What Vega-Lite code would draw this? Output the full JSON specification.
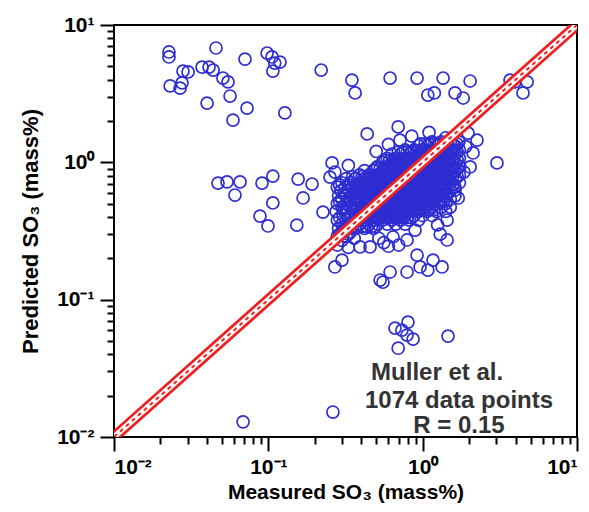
{
  "$schema": "https://vega.github.io/schema/vega-lite/v6.json",
  "width": 463,
  "height": 412,
  "autosize": {"type": "none"},
  "padding": {"left": 114, "top": 25, "right": 12, "bottom": 75},
  "background": "white",
  "config": {"view": {"stroke": "black", "strokeWidth": 2}, "font": "Liberation Sans"},
  "datasets": {
    "points": [
      {"measured":0.28,"predicted":0.25},{"measured":0.28,"predicted":0.29},{"measured":0.285,"predicted":0.33},{"measured":0.28,"predicted":0.38},{"measured":0.275,"predicted":0.44},{"measured":0.28,"predicted":0.50},{"measured":0.285,"predicted":0.57},{"measured":0.28,"predicted":0.66},
      {"measured":0.30,"predicted":0.27},{"measured":0.30,"predicted":0.31},{"measured":0.30,"predicted":0.355},{"measured":0.305,"predicted":0.41},{"measured":0.30,"predicted":0.47},{"measured":0.30,"predicted":0.54},{"measured":0.295,"predicted":0.62},{"measured":0.30,"predicted":0.71},
      {"measured":0.32,"predicted":0.29},{"measured":0.32,"predicted":0.33},{"measured":0.32,"predicted":0.38},{"measured":0.325,"predicted":0.44},{"measured":0.32,"predicted":0.50},{"measured":0.32,"predicted":0.57},{"measured":0.315,"predicted":0.66},{"measured":0.32,"predicted":0.76},
      {"measured":0.34,"predicted":0.31},{"measured":0.34,"predicted":0.355},{"measured":0.345,"predicted":0.41},{"measured":0.34,"predicted":0.47},{"measured":0.34,"predicted":0.54},{"measured":0.335,"predicted":0.62},{"measured":0.34,"predicted":0.71},
      {"measured":0.365,"predicted":0.33},{"measured":0.365,"predicted":0.38},{"measured":0.36,"predicted":0.44},{"measured":0.365,"predicted":0.50},{"measured":0.37,"predicted":0.57},{"measured":0.365,"predicted":0.66},{"measured":0.365,"predicted":0.76},
      {"measured":0.39,"predicted":0.355},{"measured":0.39,"predicted":0.41},{"measured":0.395,"predicted":0.47},{"measured":0.39,"predicted":0.54},{"measured":0.385,"predicted":0.62},{"measured":0.39,"predicted":0.71},{"measured":0.39,"predicted":0.81},
      {"measured":0.42,"predicted":0.33},{"measured":0.42,"predicted":0.38},{"measured":0.42,"predicted":0.44},{"measured":0.425,"predicted":0.50},{"measured":0.42,"predicted":0.57},{"measured":0.415,"predicted":0.66},{"measured":0.42,"predicted":0.76},{"measured":0.42,"predicted":0.87},
      {"measured":0.45,"predicted":0.355},{"measured":0.45,"predicted":0.41},{"measured":0.45,"predicted":0.47},{"measured":0.455,"predicted":0.54},{"measured":0.45,"predicted":0.62},{"measured":0.445,"predicted":0.71},{"measured":0.45,"predicted":0.81},
      {"measured":0.48,"predicted":0.33},{"measured":0.48,"predicted":0.38},{"measured":0.485,"predicted":0.44},{"measured":0.48,"predicted":0.50},{"measured":0.48,"predicted":0.57},{"measured":0.475,"predicted":0.66},{"measured":0.48,"predicted":0.76},{"measured":0.48,"predicted":0.87},
      {"measured":0.51,"predicted":0.355},{"measured":0.51,"predicted":0.41},{"measured":0.515,"predicted":0.47},{"measured":0.51,"predicted":0.54},{"measured":0.51,"predicted":0.62},{"measured":0.505,"predicted":0.71},{"measured":0.51,"predicted":0.81},{"measured":0.51,"predicted":0.93},
      {"measured":0.55,"predicted":0.38},{"measured":0.55,"predicted":0.44},{"measured":0.55,"predicted":0.50},{"measured":0.555,"predicted":0.57},{"measured":0.55,"predicted":0.66},{"measured":0.545,"predicted":0.76},{"measured":0.55,"predicted":0.87},{"measured":0.55,"predicted":1.0},
      {"measured":0.59,"predicted":0.355},{"measured":0.59,"predicted":0.41},{"measured":0.59,"predicted":0.47},{"measured":0.595,"predicted":0.54},{"measured":0.59,"predicted":0.62},{"measured":0.585,"predicted":0.71},{"measured":0.59,"predicted":0.81},{"measured":0.59,"predicted":0.93},{"measured":0.59,"predicted":1.07},
      {"measured":0.63,"predicted":0.38},{"measured":0.63,"predicted":0.44},{"measured":0.635,"predicted":0.50},{"measured":0.63,"predicted":0.57},{"measured":0.63,"predicted":0.66},{"measured":0.625,"predicted":0.76},{"measured":0.63,"predicted":0.87},{"measured":0.63,"predicted":1.0},{"measured":0.63,"predicted":1.15},
      {"measured":0.67,"predicted":0.355},{"measured":0.67,"predicted":0.41},{"measured":0.67,"predicted":0.47},{"measured":0.675,"predicted":0.54},{"measured":0.67,"predicted":0.62},{"measured":0.665,"predicted":0.71},{"measured":0.67,"predicted":0.81},{"measured":0.67,"predicted":0.93},{"measured":0.67,"predicted":1.07},
      {"measured":0.72,"predicted":0.38},{"measured":0.72,"predicted":0.44},{"measured":0.725,"predicted":0.50},{"measured":0.72,"predicted":0.57},{"measured":0.72,"predicted":0.66},{"measured":0.715,"predicted":0.76},{"measured":0.72,"predicted":0.87},{"measured":0.72,"predicted":1.0},{"measured":0.72,"predicted":1.15},
      {"measured":0.77,"predicted":0.355},{"measured":0.77,"predicted":0.41},{"measured":0.77,"predicted":0.47},{"measured":0.775,"predicted":0.54},{"measured":0.77,"predicted":0.62},{"measured":0.765,"predicted":0.71},{"measured":0.77,"predicted":0.81},{"measured":0.77,"predicted":0.93},{"measured":0.77,"predicted":1.07},{"measured":0.77,"predicted":1.23},
      {"measured":0.82,"predicted":0.38},{"measured":0.82,"predicted":0.44},{"measured":0.825,"predicted":0.50},{"measured":0.82,"predicted":0.57},{"measured":0.82,"predicted":0.66},{"measured":0.815,"predicted":0.76},{"measured":0.82,"predicted":0.87},{"measured":0.82,"predicted":1.0},{"measured":0.82,"predicted":1.15},
      {"measured":0.88,"predicted":0.41},{"measured":0.88,"predicted":0.47},{"measured":0.885,"predicted":0.54},{"measured":0.88,"predicted":0.62},{"measured":0.88,"predicted":0.71},{"measured":0.875,"predicted":0.81},{"measured":0.88,"predicted":0.93},{"measured":0.88,"predicted":1.07},{"measured":0.88,"predicted":1.23},
      {"measured":0.94,"predicted":0.38},{"measured":0.94,"predicted":0.44},{"measured":0.945,"predicted":0.50},{"measured":0.94,"predicted":0.57},{"measured":0.94,"predicted":0.66},{"measured":0.935,"predicted":0.76},{"measured":0.94,"predicted":0.87},{"measured":0.94,"predicted":1.0},{"measured":0.94,"predicted":1.15},{"measured":0.94,"predicted":1.32},
      {"measured":1.0,"predicted":0.41},{"measured":1.0,"predicted":0.47},{"measured":1.01,"predicted":0.54},{"measured":1.0,"predicted":0.62},{"measured":1.0,"predicted":0.71},{"measured":0.99,"predicted":0.81},{"measured":1.0,"predicted":0.93},{"measured":1.0,"predicted":1.07},{"measured":1.0,"predicted":1.23},
      {"measured":1.07,"predicted":0.44},{"measured":1.07,"predicted":0.50},{"measured":1.08,"predicted":0.57},{"measured":1.07,"predicted":0.66},{"measured":1.07,"predicted":0.76},{"measured":1.06,"predicted":0.87},{"measured":1.07,"predicted":1.0},{"measured":1.07,"predicted":1.15},{"measured":1.07,"predicted":1.32},
      {"measured":1.15,"predicted":0.41},{"measured":1.15,"predicted":0.47},{"measured":1.16,"predicted":0.54},{"measured":1.15,"predicted":0.62},{"measured":1.15,"predicted":0.71},{"measured":1.14,"predicted":0.81},{"measured":1.15,"predicted":0.93},{"measured":1.15,"predicted":1.07},{"measured":1.15,"predicted":1.23},{"measured":1.15,"predicted":1.41},
      {"measured":1.23,"predicted":0.44},{"measured":1.23,"predicted":0.50},{"measured":1.24,"predicted":0.57},{"measured":1.23,"predicted":0.66},{"measured":1.23,"predicted":0.76},{"measured":1.22,"predicted":0.87},{"measured":1.23,"predicted":1.0},{"measured":1.23,"predicted":1.15},{"measured":1.23,"predicted":1.32},
      {"measured":1.32,"predicted":0.47},{"measured":1.32,"predicted":0.54},{"measured":1.33,"predicted":0.62},{"measured":1.32,"predicted":0.71},{"measured":1.32,"predicted":0.81},{"measured":1.31,"predicted":0.93},{"measured":1.32,"predicted":1.07},{"measured":1.32,"predicted":1.23},{"measured":1.32,"predicted":1.41},
      {"measured":1.41,"predicted":0.44},{"measured":1.41,"predicted":0.50},{"measured":1.42,"predicted":0.57},{"measured":1.41,"predicted":0.66},{"measured":1.41,"predicted":0.76},{"measured":1.40,"predicted":0.87},{"measured":1.41,"predicted":1.0},{"measured":1.41,"predicted":1.15},{"measured":1.41,"predicted":1.32},{"measured":1.41,"predicted":1.51},
      {"measured":1.51,"predicted":0.54},{"measured":1.51,"predicted":0.62},{"measured":1.52,"predicted":0.71},{"measured":1.51,"predicted":0.81},{"measured":1.51,"predicted":0.93},{"measured":1.50,"predicted":1.07},{"measured":1.51,"predicted":1.23},{"measured":1.51,"predicted":1.41},
      {"measured":1.62,"predicted":0.57},{"measured":1.62,"predicted":0.66},{"measured":1.63,"predicted":0.76},{"measured":1.62,"predicted":0.87},{"measured":1.62,"predicted":1.0},{"measured":1.61,"predicted":1.15},{"measured":1.62,"predicted":1.32},
      {"measured":1.73,"predicted":0.71},{"measured":1.73,"predicted":0.81},{"measured":1.74,"predicted":0.93},{"measured":1.73,"predicted":1.07},{"measured":1.73,"predicted":1.23},{"measured":1.72,"predicted":1.41},
      {"measured":0.365,"predicted":0.41},{"measured":0.365,"predicted":0.47},{"measured":0.36,"predicted":0.54},{"measured":0.365,"predicted":0.62},
      {"measured":0.39,"predicted":0.44},{"measured":0.39,"predicted":0.50},{"measured":0.39,"predicted":0.57},{"measured":0.395,"predicted":0.66},
      {"measured":0.42,"predicted":0.41},{"measured":0.42,"predicted":0.47},{"measured":0.42,"predicted":0.54},{"measured":0.425,"predicted":0.62},{"measured":0.42,"predicted":0.71},
      {"measured":0.45,"predicted":0.44},{"measured":0.45,"predicted":0.50},{"measured":0.45,"predicted":0.57},{"measured":0.445,"predicted":0.66},{"measured":0.45,"predicted":0.76},
      {"measured":0.48,"predicted":0.41},{"measured":0.48,"predicted":0.47},{"measured":0.48,"predicted":0.54},{"measured":0.485,"predicted":0.62},{"measured":0.48,"predicted":0.71},
      {"measured":0.51,"predicted":0.44},{"measured":0.51,"predicted":0.50},{"measured":0.51,"predicted":0.57},{"measured":0.505,"predicted":0.66},{"measured":0.51,"predicted":0.76},
      {"measured":0.55,"predicted":0.41},{"measured":0.55,"predicted":0.47},{"measured":0.55,"predicted":0.54},{"measured":0.545,"predicted":0.62},{"measured":0.55,"predicted":0.71},{"measured":0.55,"predicted":0.81},
      {"measured":0.59,"predicted":0.44},{"measured":0.59,"predicted":0.50},{"measured":0.59,"predicted":0.57},{"measured":0.595,"predicted":0.66},{"measured":0.59,"predicted":0.76},{"measured":0.59,"predicted":0.87},
      {"measured":0.63,"predicted":0.41},{"measured":0.63,"predicted":0.47},{"measured":0.63,"predicted":0.54},{"measured":0.625,"predicted":0.62},{"measured":0.63,"predicted":0.71},{"measured":0.63,"predicted":0.81},{"measured":0.63,"predicted":0.93},
      {"measured":0.67,"predicted":0.44},{"measured":0.67,"predicted":0.50},{"measured":0.67,"predicted":0.57},{"measured":0.675,"predicted":0.66},{"measured":0.67,"predicted":0.76},{"measured":0.67,"predicted":0.87},{"measured":0.67,"predicted":1.0},
      {"measured":0.72,"predicted":0.41},{"measured":0.72,"predicted":0.47},{"measured":0.72,"predicted":0.54},{"measured":0.715,"predicted":0.62},{"measured":0.72,"predicted":0.71},{"measured":0.72,"predicted":0.81},{"measured":0.72,"predicted":0.93},
      {"measured":0.77,"predicted":0.44},{"measured":0.77,"predicted":0.50},{"measured":0.77,"predicted":0.57},{"measured":0.775,"predicted":0.66},{"measured":0.77,"predicted":0.76},{"measured":0.77,"predicted":0.87},{"measured":0.77,"predicted":1.0},
      {"measured":0.82,"predicted":0.47},{"measured":0.82,"predicted":0.54},{"measured":0.82,"predicted":0.62},{"measured":0.825,"predicted":0.71},{"measured":0.82,"predicted":0.81},{"measured":0.82,"predicted":0.93},{"measured":0.82,"predicted":1.07},
      {"measured":0.88,"predicted":0.50},{"measured":0.88,"predicted":0.57},{"measured":0.88,"predicted":0.66},{"measured":0.885,"predicted":0.76},{"measured":0.88,"predicted":0.87},{"measured":0.88,"predicted":1.0},
      {"measured":0.94,"predicted":0.47},{"measured":0.94,"predicted":0.54},{"measured":0.94,"predicted":0.62},{"measured":0.945,"predicted":0.71},{"measured":0.94,"predicted":0.81},{"measured":0.94,"predicted":0.93},{"measured":0.94,"predicted":1.07},
      {"measured":1.0,"predicted":0.50},{"measured":1.0,"predicted":0.57},{"measured":1.0,"predicted":0.66},{"measured":1.01,"predicted":0.76},{"measured":1.0,"predicted":0.87},{"measured":1.0,"predicted":1.0},{"measured":1.0,"predicted":1.15},
      {"measured":1.07,"predicted":0.54},{"measured":1.07,"predicted":0.62},{"measured":1.07,"predicted":0.71},{"measured":1.08,"predicted":0.81},{"measured":1.07,"predicted":0.93},{"measured":1.07,"predicted":1.07},
      {"measured":1.15,"predicted":0.57},{"measured":1.15,"predicted":0.66},{"measured":1.15,"predicted":0.76},{"measured":1.16,"predicted":0.87},{"measured":1.15,"predicted":1.0},{"measured":1.15,"predicted":1.15},
      {"measured":1.23,"predicted":0.62},{"measured":1.23,"predicted":0.71},{"measured":1.23,"predicted":0.81},{"measured":1.24,"predicted":0.93},{"measured":1.23,"predicted":1.07},
      {"measured":1.32,"predicted":0.66},{"measured":1.32,"predicted":0.76},{"measured":1.32,"predicted":0.87},{"measured":1.33,"predicted":1.0},{"measured":1.32,"predicted":1.15},
      {"measured":0.29,"predicted":0.30},{"measured":0.29,"predicted":0.395},{"measured":0.29,"predicted":0.52},{"measured":0.29,"predicted":0.685},
      {"measured":0.31,"predicted":0.34},{"measured":0.31,"predicted":0.455},{"measured":0.31,"predicted":0.595},
      {"measured":0.33,"predicted":0.30},{"measured":0.33,"predicted":0.395},{"measured":0.33,"predicted":0.52},{"measured":0.33,"predicted":0.685},
      {"measured":0.352,"predicted":0.34},{"measured":0.352,"predicted":0.455},{"measured":0.352,"predicted":0.595},{"measured":0.352,"predicted":0.785},
      {"measured":0.377,"predicted":0.34},{"measured":0.377,"predicted":0.395},{"measured":0.377,"predicted":0.455},{"measured":0.377,"predicted":0.52},{"measured":0.377,"predicted":0.595},{"measured":0.377,"predicted":0.685},
      {"measured":0.405,"predicted":0.34},{"measured":0.405,"predicted":0.395},{"measured":0.405,"predicted":0.455},{"measured":0.405,"predicted":0.52},{"measured":0.405,"predicted":0.595},{"measured":0.405,"predicted":0.685},{"measured":0.405,"predicted":0.785},
      {"measured":0.435,"predicted":0.34},{"measured":0.435,"predicted":0.395},{"measured":0.435,"predicted":0.455},{"measured":0.435,"predicted":0.52},{"measured":0.435,"predicted":0.595},{"measured":0.435,"predicted":0.685},{"measured":0.435,"predicted":0.785},
      {"measured":0.465,"predicted":0.34},{"measured":0.465,"predicted":0.395},{"measured":0.465,"predicted":0.455},{"measured":0.465,"predicted":0.52},{"measured":0.465,"predicted":0.595},{"measured":0.465,"predicted":0.685},{"measured":0.465,"predicted":0.785},
      {"measured":0.495,"predicted":0.34},{"measured":0.495,"predicted":0.395},{"measured":0.495,"predicted":0.455},{"measured":0.495,"predicted":0.52},{"measured":0.495,"predicted":0.595},{"measured":0.495,"predicted":0.685},{"measured":0.495,"predicted":0.785},{"measured":0.495,"predicted":0.90},
      {"measured":0.53,"predicted":0.395},{"measured":0.53,"predicted":0.455},{"measured":0.53,"predicted":0.52},{"measured":0.53,"predicted":0.595},{"measured":0.53,"predicted":0.685},{"measured":0.53,"predicted":0.785},{"measured":0.53,"predicted":0.90},
      {"measured":0.57,"predicted":0.395},{"measured":0.57,"predicted":0.455},{"measured":0.57,"predicted":0.52},{"measured":0.57,"predicted":0.595},{"measured":0.57,"predicted":0.685},{"measured":0.57,"predicted":0.785},{"measured":0.57,"predicted":0.90},{"measured":0.57,"predicted":1.035},
      {"measured":0.61,"predicted":0.395},{"measured":0.61,"predicted":0.455},{"measured":0.61,"predicted":0.52},{"measured":0.61,"predicted":0.595},{"measured":0.61,"predicted":0.685},{"measured":0.61,"predicted":0.785},{"measured":0.61,"predicted":0.90},{"measured":0.61,"predicted":1.035},
      {"measured":0.65,"predicted":0.395},{"measured":0.65,"predicted":0.455},{"measured":0.65,"predicted":0.52},{"measured":0.65,"predicted":0.595},{"measured":0.65,"predicted":0.685},{"measured":0.65,"predicted":0.785},{"measured":0.65,"predicted":0.90},{"measured":0.65,"predicted":1.035},
      {"measured":0.695,"predicted":0.395},{"measured":0.695,"predicted":0.455},{"measured":0.695,"predicted":0.52},{"measured":0.695,"predicted":0.595},{"measured":0.695,"predicted":0.685},{"measured":0.695,"predicted":0.785},{"measured":0.695,"predicted":0.90},{"measured":0.695,"predicted":1.035},{"measured":0.695,"predicted":1.19},
      {"measured":0.745,"predicted":0.395},{"measured":0.745,"predicted":0.455},{"measured":0.745,"predicted":0.52},{"measured":0.745,"predicted":0.595},{"measured":0.745,"predicted":0.685},{"measured":0.745,"predicted":0.785},{"measured":0.745,"predicted":0.90},{"measured":0.745,"predicted":1.035},{"measured":0.745,"predicted":1.19},
      {"measured":0.795,"predicted":0.395},{"measured":0.795,"predicted":0.455},{"measured":0.795,"predicted":0.52},{"measured":0.795,"predicted":0.595},{"measured":0.795,"predicted":0.685},{"measured":0.795,"predicted":0.785},{"measured":0.795,"predicted":0.90},{"measured":0.795,"predicted":1.035},{"measured":0.795,"predicted":1.19},
      {"measured":0.85,"predicted":0.395},{"measured":0.85,"predicted":0.455},{"measured":0.85,"predicted":0.52},{"measured":0.85,"predicted":0.595},{"measured":0.85,"predicted":0.685},{"measured":0.85,"predicted":0.785},{"measured":0.85,"predicted":0.90},{"measured":0.85,"predicted":1.035},{"measured":0.85,"predicted":1.19},
      {"measured":0.91,"predicted":0.455},{"measured":0.91,"predicted":0.52},{"measured":0.91,"predicted":0.595},{"measured":0.91,"predicted":0.685},{"measured":0.91,"predicted":0.785},{"measured":0.91,"predicted":0.90},{"measured":0.91,"predicted":1.035},{"measured":0.91,"predicted":1.19},
      {"measured":0.97,"predicted":0.455},{"measured":0.97,"predicted":0.52},{"measured":0.97,"predicted":0.595},{"measured":0.97,"predicted":0.685},{"measured":0.97,"predicted":0.785},{"measured":0.97,"predicted":0.90},{"measured":0.97,"predicted":1.035},{"measured":0.97,"predicted":1.19},{"measured":0.97,"predicted":1.36},
      {"measured":1.035,"predicted":0.455},{"measured":1.035,"predicted":0.52},{"measured":1.035,"predicted":0.595},{"measured":1.035,"predicted":0.685},{"measured":1.035,"predicted":0.785},{"measured":1.035,"predicted":0.90},{"measured":1.035,"predicted":1.035},{"measured":1.035,"predicted":1.19},{"measured":1.035,"predicted":1.36},
      {"measured":1.11,"predicted":0.455},{"measured":1.11,"predicted":0.52},{"measured":1.11,"predicted":0.595},{"measured":1.11,"predicted":0.685},{"measured":1.11,"predicted":0.785},{"measured":1.11,"predicted":0.90},{"measured":1.11,"predicted":1.035},{"measured":1.11,"predicted":1.19},{"measured":1.11,"predicted":1.36},
      {"measured":1.19,"predicted":0.455},{"measured":1.19,"predicted":0.52},{"measured":1.19,"predicted":0.595},{"measured":1.19,"predicted":0.685},{"measured":1.19,"predicted":0.785},{"measured":1.19,"predicted":0.90},{"measured":1.19,"predicted":1.035},{"measured":1.19,"predicted":1.19},{"measured":1.19,"predicted":1.36},
      {"measured":1.275,"predicted":0.52},{"measured":1.275,"predicted":0.595},{"measured":1.275,"predicted":0.685},{"measured":1.275,"predicted":0.785},{"measured":1.275,"predicted":0.90},{"measured":1.275,"predicted":1.035},{"measured":1.275,"predicted":1.19},{"measured":1.275,"predicted":1.36},
      {"measured":1.365,"predicted":0.52},{"measured":1.365,"predicted":0.595},{"measured":1.365,"predicted":0.685},{"measured":1.365,"predicted":0.785},{"measured":1.365,"predicted":0.90},{"measured":1.365,"predicted":1.035},{"measured":1.365,"predicted":1.19},{"measured":1.365,"predicted":1.36},
      {"measured":1.46,"predicted":0.595},{"measured":1.46,"predicted":0.685},{"measured":1.46,"predicted":0.785},{"measured":1.46,"predicted":0.90},{"measured":1.46,"predicted":1.035},{"measured":1.46,"predicted":1.19},{"measured":1.46,"predicted":1.36},
      {"measured":1.565,"predicted":0.685},{"measured":1.565,"predicted":0.785},{"measured":1.565,"predicted":0.90},{"measured":1.565,"predicted":1.035},{"measured":1.565,"predicted":1.19},{"measured":1.565,"predicted":1.36},
      {"measured":1.675,"predicted":0.785},{"measured":1.675,"predicted":0.90},{"measured":1.675,"predicted":1.035},{"measured":1.675,"predicted":1.19},{"measured":1.675,"predicted":1.36},
      {"measured":0.0227,"predicted":6.36},{"measured":0.0227,"predicted":5.85},{"measured":0.0458,"predicted":6.8},{"measured":0.0706,"predicted":5.65},{"measured":0.0982,"predicted":6.25},{"measured":0.1057,"predicted":5.85},{"measured":0.110,"predicted":5.28},{"measured":0.119,"predicted":5.37},{"measured":0.107,"predicted":4.62},{"measured":0.028,"predicted":4.62},{"measured":0.0302,"predicted":4.55},{"measured":0.0372,"predicted":4.94},{"measured":0.0413,"predicted":4.94},{"measured":0.0439,"predicted":4.70},{"measured":0.0508,"predicted":4.11},{"measured":0.0548,"predicted":3.85},{"measured":0.0231,"predicted":3.6},{"measured":0.0268,"predicted":3.47},{"measured":0.0276,"predicted":3.79},{"measured":0.0565,"predicted":3.04},{"measured":0.0401,"predicted":2.70},{"measured":0.0728,"predicted":2.48},{"measured":0.059,"predicted":2.03},{"measured":0.128,"predicted":2.29},
      {"measured":0.22,"predicted":4.70},{"measured":0.348,"predicted":3.97},{"measured":0.365,"predicted":3.20},{"measured":0.615,"predicted":4.11},{"measured":0.92,"predicted":4.11},{"measured":1.356,"predicted":4.11},{"measured":2.03,"predicted":3.91},{"measured":1.08,"predicted":3.09},{"measured":1.19,"predicted":3.20},{"measured":1.62,"predicted":3.20},{"measured":1.83,"predicted":2.94},{"measured":3.68,"predicted":3.97},{"measured":3.97,"predicted":3.85},{"measured":4.75,"predicted":3.85},{"measured":4.47,"predicted":3.20},
      {"measured":0.437,"predicted":1.61},{"measured":0.694,"predicted":1.81},{"measured":0.713,"predicted":1.45},{"measured":3.03,"predicted":0.99},{"measured":0.259,"predicted":0.99},{"measured":2.25,"predicted":1.45},{"measured":2.03,"predicted":0.925},{"measured":2.12,"predicted":1.17},{"measured":1.97,"predicted":1.63},{"measured":1.62,"predicted":0.628},{"measured":1.51,"predicted":0.472},{"measured":1.44,"predicted":0.38},{"measured":1.44,"predicted":0.272},
      {"measured":0.0472,"predicted":0.706},{"measured":0.054,"predicted":0.72},{"measured":0.0656,"predicted":0.72},{"measured":0.0608,"predicted":0.578},{"measured":0.091,"predicted":0.706},{"measured":0.107,"predicted":0.794},{"measured":0.107,"predicted":0.506},{"measured":0.0883,"predicted":0.406},{"measured":0.0995,"predicted":0.344},{"measured":0.153,"predicted":0.349},{"measured":0.156,"predicted":0.755},{"measured":0.192,"predicted":0.695},{"measured":0.168,"predicted":0.55},{"measured":0.226,"predicted":0.434},{"measured":0.251,"predicted":0.781},
      {"measured":0.553,"predicted":0.134},{"measured":0.615,"predicted":0.159},{"measured":0.792,"predicted":0.159},{"measured":0.92,"predicted":0.211},{"measured":0.962,"predicted":0.173},{"measured":1.08,"predicted":0.164},{"measured":1.167,"predicted":0.194},{"measured":1.336,"predicted":0.173},
      {"measured":0.662,"predicted":0.0621},{"measured":0.734,"predicted":0.060},{"measured":0.803,"predicted":0.0687},{"measured":0.792,"predicted":0.0552},{"measured":0.867,"predicted":0.0516},{"measured":0.694,"predicted":0.0443},{"measured":1.46,"predicted":0.0543},{"measured":0.262,"predicted":0.0152},{"measured":0.0686,"predicted":0.0129},
      {"measured":0.53,"predicted":0.139},{"measured":0.27,"predicted":0.173},{"measured":0.30,"predicted":0.194},{"measured":0.393,"predicted":0.242},{"measured":0.456,"predicted":0.242},{"measured":0.643,"predicted":0.286},{"measured":0.792,"predicted":0.272},{"measured":0.893,"predicted":0.321},
      {"measured":0.33,"predicted":0.24},{"measured":0.36,"predicted":0.28},{"measured":0.52,"predicted":0.28},{"measured":1.3,"predicted":0.30},{"measured":1.25,"predicted":0.35},{"measured":1.7,"predicted":0.55},{"measured":1.85,"predicted":0.85},{"measured":1.9,"predicted":1.3},{"measured":0.33,"predicted":0.95},{"measured":0.5,"predicted":1.2},{"measured":0.6,"predicted":1.35},{"measured":0.85,"predicted":1.55},{"measured":1.1,"predicted":1.65},{"measured":0.27,"predicted":0.85},{"measured":0.56,"predicted":0.26},{"measured":0.60,"predicted":0.245},{"measured":0.70,"predicted":0.25}
    ],
    "diag": [{"measured":0.01,"predicted":0.01},{"measured":10,"predicted":10}],
    "notes": [
      {"label":"Muller et al.","measured":1.24,"predicted":0.0259},
      {"label":"1074 data points","measured":1.72,"predicted":0.01625},
      {"label":"R = 0.15","measured":1.72,"predicted":0.01067}
    ]
  },
  "layer": [
    {
      "data": {"name": "points"},
      "mark": {"type": "point", "shape": "circle", "filled": false, "size": 145, "strokeWidth": 1.7, "color": "#2d2dd2", "opacity": 1},
      "encoding": {
        "x": {"field": "measured", "type": "quantitative",
          "scale": {"type": "log", "domain": [0.01, 10], "nice": false},
          "axis": {"orient": "bottom", "zindex": 1, "values": [0.01,0.02,0.03,0.04,0.05,0.06,0.07,0.08,0.09,0.1,0.2,0.3,0.4,0.5,0.6,0.7,0.8,0.9,1,2,3,4,5,6,7,8,9,10],
            "tickSize": {"condition": {"test": "datum.value == 0.01 || datum.value == 0.1 || datum.value == 1 || datum.value == 10", "value": 14}, "value": 7},
            "tickColor": "black", "tickWidth": 2, "domain": false, "gridOpacity": 0,
            "labelExpr": "datum.value == 0.01 ? '10⁻²' : datum.value == 0.1 ? '10⁻¹' : datum.value == 1 ? '10⁰' : datum.value == 10 ? '10¹' : ''",
            "labelFont": "Liberation Sans", "labelFontWeight": "bold", "labelFontSize": 21, "labelColor": "black", "labelPadding": 5, "labelOverlap": false,
            "title": "Measured SO₃ (mass%)", "titleFont": "Liberation Sans", "titleFontWeight": "bold", "titleFontSize": 21, "titleColor": "black", "titlePadding": 4}},
        "y": {"field": "predicted", "type": "quantitative",
          "scale": {"type": "log", "domain": [0.01, 10], "nice": false},
          "axis": {"orient": "left", "zindex": 1, "values": [0.01,0.02,0.03,0.04,0.05,0.06,0.07,0.08,0.09,0.1,0.2,0.3,0.4,0.5,0.6,0.7,0.8,0.9,1,2,3,4,5,6,7,8,9,10],
            "tickSize": {"condition": {"test": "datum.value == 0.01 || datum.value == 0.1 || datum.value == 1 || datum.value == 10", "value": 14}, "value": 7},
            "tickColor": "black", "tickWidth": 2, "domain": false, "gridOpacity": 0,
            "labelExpr": "datum.value == 0.01 ? '10⁻²' : datum.value == 0.1 ? '10⁻¹' : datum.value == 1 ? '10⁰' : datum.value == 10 ? '10¹' : ''",
            "labelFont": "Liberation Sans", "labelFontWeight": "bold", "labelFontSize": 21, "labelColor": "black", "labelPadding": 6, "labelOverlap": false,
            "title": "Predicted SO₃ (mass%)", "titleFont": "Liberation Sans", "titleFontWeight": "bold", "titleFontSize": 22, "titleColor": "black", "titlePadding": 14}}
      }
    },
    {
      "data": {"name": "diag"},
      "mark": {"type": "line", "color": "#ee2020", "strokeWidth": 11, "clip": true, "strokeCap": "butt"},
      "encoding": {
        "x": {"field": "measured", "type": "quantitative"},
        "y": {"field": "predicted", "type": "quantitative"}
      }
    },
    {
      "data": {"name": "diag"},
      "mark": {"type": "line", "color": "white", "strokeWidth": 5.5, "clip": true, "strokeCap": "butt"},
      "encoding": {
        "x": {"field": "measured", "type": "quantitative"},
        "y": {"field": "predicted", "type": "quantitative"}
      }
    },
    {
      "data": {"name": "diag"},
      "mark": {"type": "line", "color": "#ee2020", "strokeWidth": 2, "strokeDash": [4, 4], "clip": true, "strokeCap": "butt"},
      "encoding": {
        "x": {"field": "measured", "type": "quantitative"},
        "y": {"field": "predicted", "type": "quantitative"}
      }
    },
    {
      "data": {"name": "notes"},
      "mark": {"type": "text", "font": "Liberation Sans", "fontWeight": "bold", "fontSize": 24, "color": "#333333", "align": "center", "baseline": "alphabetic"},
      "encoding": {
        "x": {"field": "measured", "type": "quantitative"},
        "y": {"field": "predicted", "type": "quantitative"},
        "text": {"field": "label"}
      }
    }
  ]
}
